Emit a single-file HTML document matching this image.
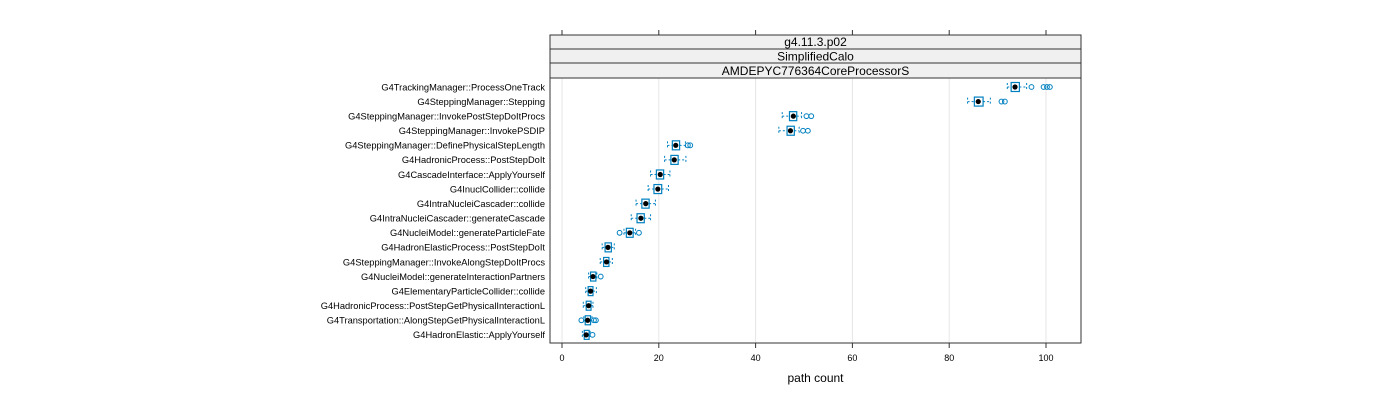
<!DOCTYPE html>
<html><head><meta charset="utf-8"><style>
body{margin:0;background:#fff;}
svg text{font-family:"Liberation Sans",sans-serif;}
</style></head><body>
<svg id="chart" width="1400" height="400" xmlns="http://www.w3.org/2000/svg">
<g id="grid"></g>
<rect x="550" y="35" width="531" height="14" fill="#f0f0f0" stroke="#333" stroke-width="1"/>
<text x="815.5" y="46" font-size="12" text-anchor="middle" fill="#000">g4.11.3.p02</text>
<rect x="550" y="49" width="531" height="14" fill="#f0f0f0" stroke="#333" stroke-width="1"/>
<text x="815.5" y="60.5" font-size="12" text-anchor="middle" fill="#000">SimplifiedCalo</text>
<rect x="550" y="63" width="531" height="15" fill="#f0f0f0" stroke="#333" stroke-width="1"/>
<text x="815.5" y="75" font-size="12" text-anchor="middle" fill="#000">AMDEPYC776364CoreProcessorS</text>
<rect x="550" y="78" width="531" height="265" fill="none" stroke="#333" stroke-width="1"/>
<g id="marks"></g>
<g id="axes"></g>
<text x="815.5" y="382" font-size="12" text-anchor="middle" fill="#000">path count</text>
</svg>
<script>
const categories=["G4TrackingManager::ProcessOneTrack","G4SteppingManager::Stepping","G4SteppingManager::InvokePostStepDoItProcs","G4SteppingManager::InvokePSDIP","G4SteppingManager::DefinePhysicalStepLength","G4HadronicProcess::PostStepDoIt","G4CascadeInterface::ApplyYourself","G4InuclCollider::collide","G4IntraNucleiCascader::collide","G4IntraNucleiCascader::generateCascade","G4NucleiModel::generateParticleFate","G4HadronElasticProcess::PostStepDoIt","G4SteppingManager::InvokeAlongStepDoItProcs","G4NucleiModel::generateInteractionPartners","G4ElementaryParticleCollider::collide","G4HadronicProcess::PostStepGetPhysicalInteractionL","G4Transportation::AlongStepGetPhysicalInteractionL","G4HadronElastic::ApplyYourself"];
const medians=[93.6,86,47.8,47.2,23.5,23.2,20.3,19.8,17.3,16.3,14,9.5,9.2,6.4,5.9,5.5,5.3,5.0];
const q1s=[92.8,85.2,47,46.5,22.8,22.5,19.5,19,16.5,15.5,13.3,8.9,8.6,5.9,5.4,5.0,4.8,4.6];
const q3s=[94.5,87,48.5,48,24.3,24,21,20.6,18,17,14.7,10.2,9.7,7.0,6.4,6.0,5.9,5.6];
const whiskLo=[92,83.8,45.5,44.8,21.8,21.2,18.3,17.8,15.3,14.3,12.8,8.3,7.9,5.5,4.9,4.4,4.5,4.2];
const whiskHi=[96,88.5,49.5,49,25.5,25.6,22.3,22,19.3,18.3,15.2,10.8,10.4,7.2,7.1,6.4,6.2,5.8];
const outliers=[[97,99.5,100.2,100.8],[90.8,91.5],[50.5,51.5],[49.8,50.8],[26,26.5],[],[],[],[],[],[11.9,15.9],[],[],[8.0],[],[],[4.0,6.6,7.0],[6.3]];
const xTicks=[0,20,40,60,80,100];
const NS="http://www.w3.org/2000/svg";
const x=v=>562+v*4.84;
const y=i=>87+i*14.58;
const col="#0080c0";
function mk(parent,tag,attrs){const e=document.createElementNS(NS,tag);for(const k in attrs)e.setAttribute(k,attrs[k]);parent.appendChild(e);return e;}
const grid=document.getElementById('grid'),marks=document.getElementById('marks'),axes=document.getElementById('axes');
xTicks.forEach(t=>{
  const g=mk(grid,'line',{x1:x(t),x2:x(t),y1:78,y2:343,stroke:"#e6e6e6","stroke-width":1});
  
  
  const tb=mk(axes,'line',{x1:x(t),x2:x(t),y1:343,y2:348,stroke:"#333"});
  
  
  const tt=mk(axes,'line',{x1:x(t),x2:x(t),y1:30,y2:35,stroke:"#333"});
  
  
  const l=mk(axes,'text',{x:x(t),y:361,"font-size":9,"text-anchor":"middle",fill:"#000"});
  l.textContent=t;
  
  
});
categories.forEach((c,i)=>{
  const yy=y(i);
  const lab=mk(axes,'text',{x:545,y:yy+3.3,"font-size":9.3,"text-anchor":"end",fill:"#000"});
  lab.textContent=c;
  
  
  const g=mk(marks,'g',{});
  
  
  mk(g,'line',{x1:x(whiskLo[i]),x2:x(q1s[i]),y1:yy,y2:yy,stroke:col,"stroke-dasharray":"2,2"});
  mk(g,'line',{x1:x(q3s[i]),x2:x(whiskHi[i]),y1:yy,y2:yy,stroke:col,"stroke-dasharray":"2,2"});
  mk(g,'line',{x1:x(whiskLo[i]),x2:x(whiskLo[i]),y1:yy-4,y2:yy+4,stroke:col,"stroke-dasharray":"2,2"});
  mk(g,'line',{x1:x(whiskHi[i]),x2:x(whiskHi[i]),y1:yy-4,y2:yy+4,stroke:col,"stroke-dasharray":"2,2"});
  mk(g,'rect',{x:x(q1s[i]),y:yy-4.5,width:Math.max(1,x(q3s[i])-x(q1s[i])),height:9,fill:"none",stroke:col,"stroke-width":1.2});
  mk(g,'circle',{cx:x(medians[i]),cy:yy,r:2.6,fill:"#000"});
  outliers[i].forEach(o=>{
    const p=mk(g,'circle',{cx:x(o),cy:yy,r:2.4,fill:"none",stroke:col,"stroke-width":1});
    
    
  });
});
</script>
</body></html>
